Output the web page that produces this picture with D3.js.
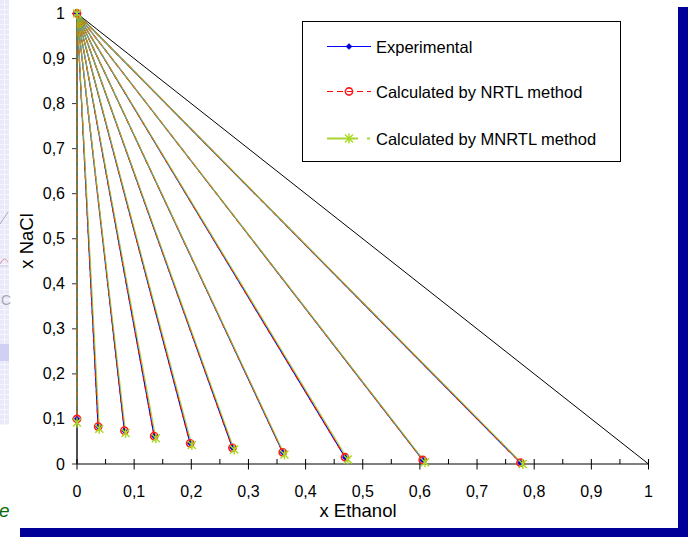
<!DOCTYPE html>
<html>
<head>
<meta charset="utf-8">
<script src="https://cdn.jsdelivr.net/npm/d3@7"></script>
<style>
  html, body { margin: 0; padding: 0; background: #fff; }
  svg { display: block; font-family: "Liberation Sans", Arial, sans-serif; }
</style>
</head>
<body>
<svg id="chart" width="688" height="537"></svg>
<script>
// Tie-line end compositions (liquid phase); every tie line starts at pure NaCl (0, 1)
const expEthanol   = [0, 0.037, 0.083, 0.135, 0.198, 0.272, 0.360, 0.469, 0.605, 0.776];
const expNaCl      = [0.100, 0.083, 0.074, 0.062, 0.046, 0.036, 0.026, 0.015, 0.009, 0.003];
const nrtlEthanol  = [0, 0.037, 0.083, 0.135, 0.198, 0.272, 0.360, 0.469, 0.605, 0.776];
const nrtlNaCl     = [0.100, 0.083, 0.074, 0.062, 0.046, 0.036, 0.026, 0.015, 0.009, 0.003];
const mnrtlEthanol = [0, 0.039, 0.085, 0.138, 0.201, 0.275, 0.363, 0.474, 0.609, 0.780];
const mnrtlNaCl    = [0.092, 0.078, 0.069, 0.057, 0.042, 0.032, 0.021, 0.010, 0.004, 0.000];
const solidPoint   = [0, 1];

const xTicks = [0, 0.1, 0.2, 0.3, 0.4, 0.5, 0.6, 0.7, 0.8, 0.9, 1];
const yTicks = [0, 0.1, 0.2, 0.3, 0.4, 0.5, 0.6, 0.7, 0.8, 0.9, 1];
const xMinorTicks = [0.05, 0.15, 0.25, 0.35, 0.45, 0.55, 0.65, 0.75, 0.85, 0.95];
const seriesNames = ["Experimental", "Calculated by NRTL method", "Calculated by MNRTL method"];

const fmt = v => (v === 0 || v === 1) ? String(v) : d3.format(".1f")(v).replace(".", ",");

const svg = d3.select("#chart");
const x = d3.scaleLinear().domain([0, 1]).range([77, 648.5]);
const y = d3.scaleLinear().domain([0, 1]).range([464, 13.5]);

// ---- slide decoration around the plot ----
const defs = svg.append("defs");
const pat = defs.append("pattern").attr("id", "grid").attr("width", 5).attr("height", 5)
  .attr("patternUnits", "userSpaceOnUse");
pat.append("rect").attr("width", 5).attr("height", 5).attr("fill", "#e9e9fb");
pat.append("path").attr("d", "M0,4.5H5M4.5,0V5").attr("stroke", "#f6f6ff").attr("stroke-width", 1);

svg.append("rect").attr("x", 0).attr("y", 0).attr("width", 9).attr("height", 425).attr("fill", "url(#grid)");
svg.append("rect").attr("x", 0).attr("y", 344).attr("width", 9).attr("height", 17).attr("fill", "#d0d0f4");
svg.append("path").attr("d", "M0,224 L8,212").attr("stroke", "#9a9aa8").attr("stroke-width", 0.8).attr("fill", "none");
svg.append("path").attr("d", "M0,264 Q4,255 8,262").attr("stroke", "#d89aa0").attr("stroke-width", 1).attr("fill", "none");
svg.append("path").attr("d", "M0,266 L8,266").attr("stroke", "#b8b8c8").attr("stroke-width", 0.6);
svg.append("text").attr("x", 1).attr("y", 305).attr("font-size", 14).attr("fill", "#a8a8b4").text("C");
svg.append("text").attr("x", -1).attr("y", 517).attr("font-size", 19).attr("font-style", "italic")
  .attr("fill", "#0a6a0a").text("e");

svg.append("rect").attr("x", 678).attr("y", 7).attr("width", 10).attr("height", 530).attr("fill", "#000099");
svg.append("rect").attr("x", 20).attr("y", 528).attr("width", 668).attr("height", 9).attr("fill", "#000099");

// ---- axes ----
const g = svg.append("g");

// y axis line and ticks
g.append("line").attr("x1", x(0)).attr("x2", x(0)).attr("y1", y(0)).attr("y2", y(1))
  .attr("stroke", "#808080").attr("stroke-width", 1.5);
g.selectAll(".ytick").data(yTicks).join("line")
  .attr("x1", x(0) - 5).attr("x2", x(0)).attr("y1", d => y(d)).attr("y2", d => y(d))
  .attr("stroke", "#333").attr("stroke-width", 1);
g.selectAll(".ylab").data(yTicks).join("text")
  .attr("x", 65).attr("y", d => y(d) + 5.5).attr("text-anchor", "end")
  .attr("font-size", 16).attr("fill", "#000").text(fmt);

// x axis line and ticks
g.append("line").attr("x1", x(0)).attr("x2", x(1)).attr("y1", y(0)).attr("y2", y(0))
  .attr("stroke", "#808080").attr("stroke-width", 2);
g.selectAll(".xtick").data(xTicks).join("line")
  .attr("x1", d => x(d)).attr("x2", d => x(d)).attr("y1", y(0) - 5).attr("y2", y(0) + 5.5)
  .attr("stroke", "#000").attr("stroke-width", 1);
g.selectAll(".xminor").data(xMinorTicks).join("line")
  .attr("x1", d => x(d)).attr("x2", d => x(d)).attr("y1", y(0) - 5).attr("y2", y(0))
  .attr("stroke", "#000").attr("stroke-width", 1);
g.selectAll(".xlab").data(xTicks).join("text")
  .attr("x", d => x(d)).attr("y", 497).attr("text-anchor", "middle")
  .attr("font-size", 16).attr("fill", "#000").text(fmt);

// axis titles
svg.append("text").attr("x", 358).attr("y", 517).attr("text-anchor", "middle")
  .attr("font-size", 18.5).attr("fill", "#000").text("x Ethanol");
svg.append("text").attr("transform", "translate(33,241) rotate(-90)").attr("text-anchor", "middle")
  .attr("font-size", 18.5).attr("fill", "#000").text("x NaCl");

// ---- phase-diagram boundary (triangle) ----
g.append("path")
  .attr("d", d3.line()([[x(1), y(0)], [x(0), y(1)], [x(0), y(0)]]))
  .attr("fill", "none").attr("stroke", "#000").attr("stroke-width", 1);

// ---- tie lines ----
const styles = [
  { color: "#0000ff", width: 1.2, dash: null, opacity: 1 },
  { color: "#ff0000", width: 1.2, dash: "5,4", opacity: 1 },
  { color: "#9ccc1c", width: 1.2, dash: null, opacity: 0.85 }
];
const series = [
  { eth: expEthanol, nacl: expNaCl },
  { eth: nrtlEthanol, nacl: nrtlNaCl },
  { eth: mnrtlEthanol, nacl: mnrtlNaCl }
];
const line = d3.line().x(d => x(d[0])).y(d => y(d[1]));

function marker(sel, kind, cx, cy) {
  if (kind === 0) {
    sel.append("path").attr("d", `M${cx},${cy - 3}L${cx + 3},${cy}L${cx},${cy + 3}L${cx - 3},${cy}Z`)
      .attr("fill", "#0000cc").attr("stroke", "#0000ff").attr("stroke-width", 0.5);
  } else if (kind === 1) {
    sel.append("circle").attr("cx", cx).attr("cy", cy).attr("r", 3.6)
      .attr("fill", "none").attr("stroke", "#ff1a1a").attr("stroke-width", 1.6);
  } else {
    const s = 4;
    sel.append("path")
      .attr("d", `M${cx - s},${cy - s}L${cx + s},${cy + s}M${cx - s},${cy + s}L${cx + s},${cy - s}M${cx},${cy - s - 1}L${cx},${cy + s + 1}`)
      .attr("stroke", "#a8d820").attr("stroke-width", 1.4).attr("fill", "none");
  }
}

series.forEach((s, k) => {
  const st = styles[k];
  const sg = g.append("g").attr("opacity", st.opacity);
  s.eth.forEach((e, i) => {
    sg.append("path").attr("d", line([solidPoint, [e, s.nacl[i]]]))
      .attr("fill", "none").attr("stroke", st.color).attr("stroke-width", st.width)
      .attr("stroke-dasharray", st.dash);
  });
});
series.forEach((s, k) => {
  const mg = g.append("g");
  marker(mg, k, x(solidPoint[0]), y(solidPoint[1]));
  s.eth.forEach((e, i) => marker(mg, k, x(e), y(s.nacl[i])));
});

// ---- legend ----
const lg = svg.append("g");
lg.append("rect").attr("x", 302.5).attr("y", 21.5).attr("width", 318).attr("height", 140)
  .attr("fill", "#fff").attr("stroke", "#000").attr("stroke-width", 1);
const rowsY = [46.5, 91.5, 138.5];
const legendDash = [null, "6,4", "31,9,3"];
seriesNames.forEach((name, k) => {
  const yy = rowsY[k];
  lg.append("line").attr("x1", 327).attr("x2", 371).attr("y1", yy).attr("y2", yy)
    .attr("stroke", k === 2 ? "#a8d430" : styles[k].color).attr("stroke-width", k === 2 ? 2 : 1)
    .attr("stroke-dasharray", legendDash[k]);
  marker(lg, k, 349, yy);
  lg.append("text").attr("x", 376).attr("y", yy + 6).attr("font-size", 16.5).attr("fill", "#000").text(name);
});
</script>
</body>
</html>
